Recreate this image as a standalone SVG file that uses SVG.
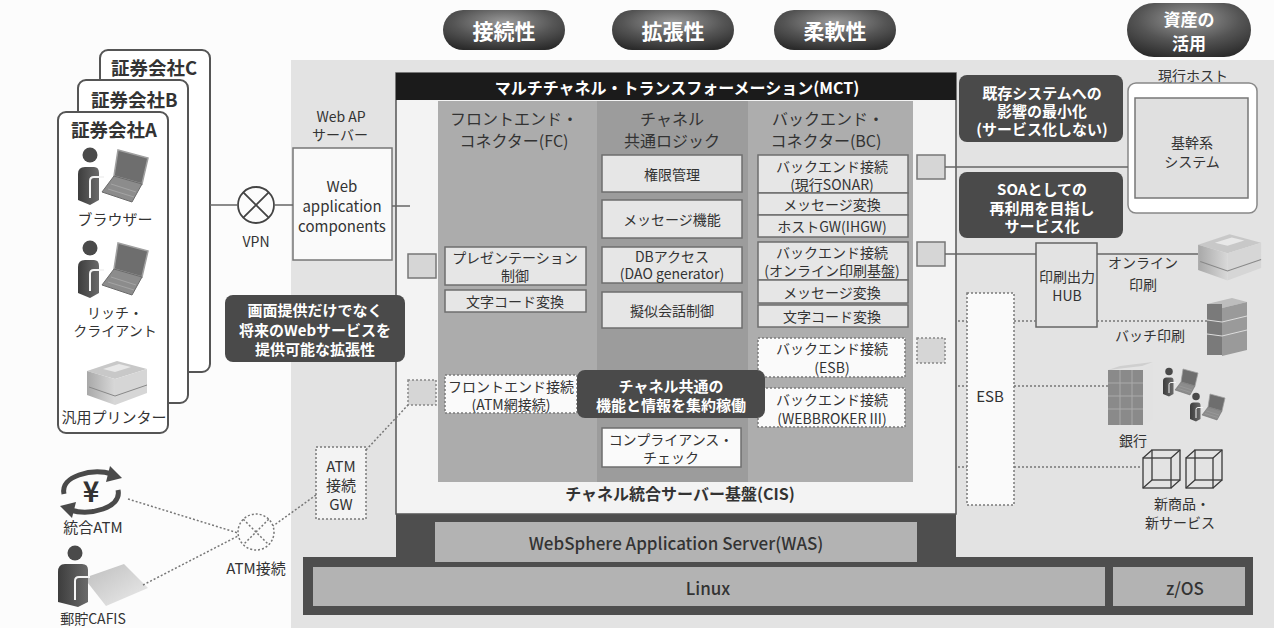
<svg xmlns="http://www.w3.org/2000/svg" width="1274" height="628" viewBox="0 0 1274 628">
<defs>
<style>
text { font-family: "Noto Sans CJK JP","Noto Sans",sans-serif; fill:#333; dominant-baseline:central; text-anchor:middle; }
.b { font-weight:bold; }
.w { fill:#fff; }
.f13 { font-size:13px; } .f14 { font-size:14px; } .f15 { font-size:15px; } .f16 { font-size:16px; } .f17 { font-size:17px; } .f18 { font-size:18.5px; } .f21 { font-size:21px; }
.box { fill:#e6e6e6; stroke:#6e6e6e; stroke-width:1.5; }
.dbox { fill:#fafafa; stroke:#7a7a7a; stroke-width:1.5; stroke-dasharray:2 2; }
.callout { fill:#4a4a4a; }
.sq { fill:#d6d6d6; stroke:#777; stroke-width:1.5; }
.dsq { fill:#d6d6d6; stroke:#888; stroke-width:1.5; stroke-dasharray:2 2; }
.ln { stroke:#666; stroke-width:1.5; fill:none; }
.dot { stroke:#777; stroke-width:1.5; fill:none; stroke-dasharray:2 2; }
.card { fill:#fff; stroke:#555; stroke-width:2; }
.cube { fill:none; stroke:#3a3a3a; stroke-width:1.3; }
</style>
<radialGradient id="pillGrad" cx="50%" cy="30%" r="75%">
<stop offset="0" stop-color="#9a9a9a"/>
<stop offset="0.55" stop-color="#555"/>
<stop offset="1" stop-color="#2a2a2a"/>
</radialGradient>
<linearGradient id="bodyGrad" x1="0" y1="0" x2="1" y2="0">
<stop offset="0" stop-color="#3d3d3d"/>
<stop offset="1" stop-color="#6a6a6a"/>
</linearGradient>
<linearGradient id="printGrad" x1="0" y1="0" x2="1" y2="0">
<stop offset="0" stop-color="#a8a8a8"/>
<stop offset="1" stop-color="#d8d8d8"/>
</linearGradient>
<linearGradient id="cardGrad" x1="0" y1="0" x2="1" y2="1">
<stop offset="0" stop-color="#bdbdbd"/>
<stop offset="1" stop-color="#ececec"/>
</linearGradient>
<!-- user at a laptop -->
<g id="pcUser">
<circle cx="12" cy="7" r="7.5" fill="#4a4a4a"/>
<path d="M0,26 Q0,19 7,19 L16,19 Q21,19 21,25 L21,52 L12,57 L0,52 Z" fill="url(#bodyGrad)"/>
<path d="M12,50 L12,33 Q12,29 16,29 L26,29" stroke="#f4f4f4" stroke-width="2" fill="none"/>
<polygon points="40,2 70,10 64,36 36,28" fill="#6e6e6e" stroke="#a0a0a0" stroke-width="1.5"/>
<polygon points="36,28 64,36 54,54 24,44" fill="#8c8c8c" stroke="#6a6a6a" stroke-width="1"/>
<path d="M33,36 L58,44 M30,41 L56,49" stroke="#aaa" stroke-width="0.8"/>
</g>
<!-- desktop printer -->
<g id="printer">
<polygon points="2,16 32,6 62,14 30,24" fill="#c8c8c8"/>
<polygon points="18,14 34,9 46,12 30,17" fill="#e8e8e8"/>
<polygon points="2,16 30,24 30,50 2,40" fill="url(#printGrad)"/>
<polygon points="30,24 62,14 62,38 30,50" fill="#d6d6d6"/>
<path d="M4,32 L30,41 L62,30" stroke="#888" stroke-width="1" fill="none"/>
</g>
</defs>

<!-- page and platform area -->
<rect x="0" y="0" width="1274" height="628" fill="#fcfcfc"/>
<rect x="291" y="60" width="983" height="568" fill="#e3e3e3"/>

<!-- feature pills -->
<g id="pill-connectivity">
<rect x="443" y="10" width="122" height="40" rx="20" fill="url(#pillGrad)"/>
<text x="504" y="30" class="f21 b w">接続性</text>
</g>
<g id="pill-extensibility">
<rect x="612" y="10" width="122" height="40" rx="20" fill="url(#pillGrad)"/>
<text x="673" y="30" class="f21 b w">拡張性</text>
</g>
<g id="pill-flexibility">
<rect x="774" y="10" width="122" height="40" rx="20" fill="url(#pillGrad)"/>
<text x="835" y="30" class="f21 b w">柔軟性</text>
</g>
<g id="pill-assets">
<rect x="1127" y="3" width="124" height="54" rx="27" fill="url(#pillGrad)"/>
<text x="1189" y="18" class="b w" style="font-size:17px">資産の</text>
<text x="1189" y="42" class="b w" style="font-size:17px">活用</text>
</g>

<!-- platform layers -->
<g id="platform">
<rect x="303" y="557" width="950" height="58" fill="#4e4e4e"/>
<rect x="396" y="514" width="560" height="50" fill="#4e4e4e"/>
<rect x="435" y="522" width="482" height="40" fill="#b3b3b3"/>
<text x="676" y="542" class="f17" style="font-weight:500">WebSphere Application Server(WAS)</text>
<rect x="313" y="567" width="792" height="39" fill="#b3b3b3"/>
<text x="708" y="587" class="f17" style="font-weight:500">Linux</text>
<rect x="1113" y="567" width="132" height="39" fill="#b3b3b3"/>
<text x="1185" y="587" class="f17" style="font-weight:500">z/OS</text>
</g>

<!-- securities companies -->
<g id="company-c">
<rect x="100" y="50" width="110" height="322" rx="8" class="card"/>
<text x="111" y="67" class="f18 b" style="text-anchor:start">証券会社C</text>
</g>
<g id="company-b">
<rect x="78" y="80" width="110" height="323" rx="8" class="card"/>
<text x="91" y="99" class="f18 b" style="text-anchor:start">証券会社B</text>
</g>
<g id="company-a">
<rect x="58" y="112" width="110" height="321" rx="8" class="card"/>
<text x="71" y="129" class="f18 b" style="text-anchor:start">証券会社A</text>
<use href="#pcUser" transform="translate(78,148)"/>
<text x="115" y="218" class="f15">ブラウザー</text>
<use href="#pcUser" transform="translate(78,241)"/>
<text x="115" y="312" class="f14">リッチ・</text>
<text x="115" y="330" class="f14">クライアント</text>
<use href="#printer" transform="translate(85,355)"/>
<text x="114" y="416" class="f15">汎用プリンター</text>
</g>

<!-- ATM side -->
<g id="atm-integrated">
<path d="M64,494 C60,476 92,468 112,474" stroke="#4a4a4a" stroke-width="5" fill="none"/>
<polygon points="110,466 122,478 106,482" fill="#4a4a4a"/>
<path d="M118,490 C122,508 90,516 70,510" stroke="#4a4a4a" stroke-width="5" fill="none"/>
<polygon points="72,518 60,506 76,502" fill="#4a4a4a"/>
<text x="91" y="490" style="font-size:28px" class="b">¥</text>
<text x="93" y="526" class="f15">統合ATM</text>
</g>
<g id="atm-cafis">
<polygon points="84,578 124,564 148,588 106,606" fill="url(#cardGrad)"/>
<circle cx="75" cy="553" r="7.5" fill="#4a4a4a"/>
<path d="M58,572 Q58,564 65,564 L82,564 Q88,564 88,570 L88,602 L78,607 L58,602 Z" fill="url(#bodyGrad)"/>
<path d="M75,600 L75,581 Q75,577 79,577 L90,577" stroke="#f4f4f4" stroke-width="2" fill="none"/>
<text x="93" y="618" class="f14">郵貯CAFIS</text>
</g>
<g id="vpn">
<circle cx="256" cy="205" r="18" fill="#fcfcfc" stroke="#444" stroke-width="1.8"/>
<path d="M243.3,192.3 L268.7,217.7 M268.7,192.3 L243.3,217.7" stroke="#444" stroke-width="1.8"/>
<text x="256" y="241" class="f14">VPN</text>
</g>
<g id="atm-link">
<circle cx="256" cy="532" r="18" fill="none" class="dot"/>
<path d="M243.3,519.3 L268.7,544.7 M268.7,519.3 L243.3,544.7" class="dot"/>
<text x="256" y="567" class="f15">ATM接続</text>
</g>
<g id="atm-gw">
<rect x="316" y="447" width="50" height="72" class="dbox" style="fill:#f3f3f3"/>
<text x="341" y="465" class="f15">ATM</text>
<text x="341" y="484" class="f15">接続</text>
<text x="341" y="503" class="f15">GW</text>
</g>

<!-- web application server -->
<g id="web-ap">
<text x="341" y="116" class="f14">Web AP</text>
<text x="340" y="134" class="f14">サーバー</text>
<rect x="293" y="148" width="99" height="112" fill="#fafafa" stroke="#777" stroke-width="1.5"/>
<text x="342" y="185" class="f15">Web</text>
<text x="342" y="205" class="f15">application</text>
<text x="342" y="225" class="f15">components</text>
</g>

<!-- channel integration server -->
<g id="mct">
<rect x="396" y="73" width="560" height="441" fill="#f3f3f3" stroke="#555" stroke-width="1.5"/>
<rect x="396" y="73" width="560" height="27" fill="#1b1b1b"/>
<text x="677" y="87" class="f16 b w">マルチチャネル・トランスフォーメーション(MCT)</text>
<rect x="438" y="101" width="159" height="381" fill="#acacac"/>
<rect x="597" y="101" width="151" height="381" fill="#9c9c9c"/>
<rect x="748" y="101" width="165" height="381" fill="#adadad"/>
<text x="680" y="493" class="f16 b">チャネル統合サーバー基盤(CIS)</text>
</g>

<g id="fc">
<text x="514" y="118" class="f16">フロントエンド・</text>
<text x="514" y="140" class="f16">コネクター(FC)</text>
<rect x="445" y="247" width="141" height="38" class="box"/>
<text x="515" y="257" class="f14">プレゼンテーション</text>
<text x="515" y="275" class="f14">制御</text>
<rect x="445" y="290" width="141" height="22" class="box"/>
<text x="515" y="301" class="f14">文字コード変換</text>
<rect x="445" y="375" width="132" height="38" class="dbox"/>
<text x="511" y="386" class="f14">フロントエンド接続</text>
<text x="511" y="404" class="f14">(ATM網接続)</text>
</g>

<g id="common-logic">
<text x="672" y="118" class="f16">チャネル</text>
<text x="672" y="140" class="f16">共通ロジック</text>
<rect x="602" y="155" width="140" height="37" class="box"/>
<text x="672" y="174" class="f14">権限管理</text>
<rect x="602" y="200" width="140" height="38" class="box"/>
<text x="672" y="219" class="f14">メッセージ機能</text>
<rect x="602" y="247" width="140" height="36" class="box"/>
<text x="672" y="256" class="f14">DBアクセス</text>
<text x="672" y="273" class="f14">(DAO generator)</text>
<rect x="602" y="292" width="140" height="36" class="box"/>
<text x="672" y="310" class="f14">擬似会話制御</text>
<rect x="602" y="428" width="139" height="39" fill="#fafafa" stroke="#6e6e6e" stroke-width="1.5"/>
<text x="671" y="439" class="f14">コンプライアンス・</text>
<text x="671" y="457" class="f14">チェック</text>
</g>

<g id="bc">
<text x="828" y="118" class="f16">バックエンド・</text>
<text x="826" y="140" class="f16">コネクター(BC)</text>
<rect x="758" y="155" width="150" height="38" class="box"/>
<text x="832" y="166" class="f14">バックエンド接続</text>
<text x="832" y="184" class="f14">(現行SONAR)</text>
<rect x="758" y="193" width="150" height="22" class="box"/>
<text x="832" y="204" class="f14">メッセージ変換</text>
<rect x="758" y="215" width="150" height="22" class="box"/>
<text x="832" y="226" class="f14">ホストGW(IHGW)</text>
<rect x="758" y="242" width="150" height="38" class="box"/>
<text x="832" y="252" class="f14">バックエンド接続</text>
<text x="832" y="270" class="f14">(オンライン印刷基盤)</text>
<rect x="758" y="280" width="150" height="23" class="box"/>
<text x="832" y="292" class="f14">メッセージ変換</text>
<rect x="758" y="305" width="150" height="22" class="box"/>
<text x="832" y="316" class="f14">文字コード変換</text>
<rect x="758" y="338" width="147" height="39" class="dbox"/>
<text x="832" y="348" class="f14">バックエンド接続</text>
<text x="832" y="367" class="f14">(ESB)</text>
<rect x="758" y="388" width="147" height="39" class="dbox"/>
<text x="832" y="399" class="f14">バックエンド接続</text>
<text x="832" y="418" class="f14">(WEBBROKER III)</text>
</g>

<!-- interface ports -->
<g id="ports">
<rect x="408" y="254" width="28" height="24" class="sq"/>
<rect x="408" y="380" width="28" height="25" class="dsq"/>
<rect x="917" y="155" width="28" height="24" class="sq"/>
<rect x="917" y="242" width="28" height="24" class="sq"/>
<rect x="917" y="338" width="28" height="25" class="dsq"/>
</g>

<!-- callouts -->
<g id="callout-web">
<rect x="225" y="295" width="180" height="67" rx="8" class="callout"/>
<text x="315" y="309" class="f15 b w">画面提供だけでなく</text>
<text x="315" y="329" class="f15 b w">将来のWebサービスを</text>
<text x="315" y="348" class="f15 b w">提供可能な拡張性</text>
</g>
<g id="callout-common">
<rect x="577" y="370" width="188" height="48" rx="8" class="callout"/>
<text x="671" y="385" class="f15 b w">チャネル共通の</text>
<text x="671" y="404" class="f15 b w">機能と情報を集約稼働</text>
</g>
<g id="callout-legacy">
<rect x="959" y="75" width="164" height="67" rx="8" class="callout"/>
<text x="1042" y="92" class="f15 b w">既存システムへの</text>
<text x="1042" y="110" class="f15 b w">影響の最小化</text>
<text x="1042" y="128" class="f15 b w">(サービス化しない)</text>
</g>
<g id="callout-soa">
<rect x="959" y="172" width="164" height="66" rx="8" class="callout"/>
<text x="1042" y="188" class="f15 b w">SOAとしての</text>
<text x="1042" y="207" class="f15 b w">再利用を目指し</text>
<text x="1042" y="225" class="f15 b w">サービス化</text>
</g>

<!-- host side -->
<g id="host">
<text x="1193" y="75" class="f14">現行ホスト</text>
<rect x="1128" y="83" width="129" height="130" rx="8" fill="#fff" stroke="#888" stroke-width="1.5"/>
<rect x="1135" y="98" width="113" height="100" fill="#e0e0e0" stroke="#777" stroke-width="1.5"/>
<text x="1192" y="142" class="f14">基幹系</text>
<text x="1192" y="161" class="f14">システム</text>
</g>
<g id="print-hub">
<rect x="1036" y="243" width="61" height="84" fill="#e3e3e3" stroke="#666" stroke-width="1.5"/>
<text x="1067" y="276" class="f14">印刷出力</text>
<text x="1067" y="295" class="f14">HUB</text>
</g>
<g id="esb">
<rect x="967" y="293" width="47" height="212" class="dbox"/>
<text x="990" y="395" class="f15">ESB</text>
</g>
<g id="online-print">
<use href="#printer" transform="translate(1196,228) scale(1.05)"/>
<text x="1143" y="262" class="f14">オンライン</text>
<text x="1143" y="284" class="f14">印刷</text>
</g>
<g id="batch-print">
<polygon points="1207,304 1232,298 1247,302 1222,308" fill="#bdbdbd"/>
<rect x="1207" y="304" width="15" height="51" fill="#7a7a7a"/>
<polygon points="1222,308 1247,302 1247,350 1222,356" fill="#9a9a9a"/>
<path d="M1222,322 L1247,316 M1222,336 L1247,330 M1207,320 L1222,322 M1207,334 L1222,336" stroke="#ddd" stroke-width="1"/>
<text x="1150" y="335" class="f14">バッチ印刷</text>
</g>
<g id="bank">
<polygon points="1108,370 1142,366 1153,362 1120,366" fill="#cfcfcf"/>
<rect x="1108" y="370" width="35" height="55" fill="#8a8a8a"/>
<polygon points="1143,370 1153,364 1153,419 1143,425" fill="#e2e2e2"/>
<path d="M1108,383 H1143 M1108,396 H1143 M1108,409 H1143 M1120,370 V425 M1132,370 V425" stroke="#aaa" stroke-width="1"/>
<use href="#pcUser" transform="translate(1163,368) scale(0.5)"/>
<use href="#pcUser" transform="translate(1190,393) scale(0.5)"/>
<text x="1133" y="440" class="f14">銀行</text>
</g>
<g id="new-services">
<rect x="1143" y="458" width="28" height="30" class="cube"/>
<rect x="1152" y="450" width="28" height="30" class="cube"/>
<path d="M1143,458 L1152,450 M1171,458 L1180,450 M1171,488 L1180,480 M1143,488 L1152,480" class="cube"/>
<rect x="1186" y="458" width="27" height="30" class="cube"/>
<rect x="1195" y="450" width="27" height="30" class="cube"/>
<path d="M1186,458 L1195,450 M1213,458 L1222,450 M1213,488 L1222,480 M1186,488 L1195,480" class="cube"/>
<text x="1182" y="503" class="f14">新商品・</text>
<text x="1180" y="522" class="f14">新サービス</text>
</g>

<!-- connectors -->
<g id="connectors">
<path d="M210,205 H238" class="ln"/>
<path d="M274,205 H293" class="ln"/>
<path d="M392,206 H410" class="ln"/>
<path d="M945,167 H1128" class="ln"/>
<path d="M945,254 H1036" class="ln"/>
<path d="M1097,254 H1198" class="ln"/>
<path d="M958,321 H967 M1014,321 H1036 M1097,321 H1207" class="dot"/>
<path d="M958,386 H967 M1014,386 H1108" class="dot"/>
<path d="M958,467 H967 M1014,467 H1143" class="dot"/>
<path d="M366,450 L408,405" class="dot"/>
<path d="M316,495 L273,526" class="dot"/>
<path d="M128,499 L238,533" class="dot"/>
<path d="M143,585 L238,536" class="dot"/>
</g>
</svg>
